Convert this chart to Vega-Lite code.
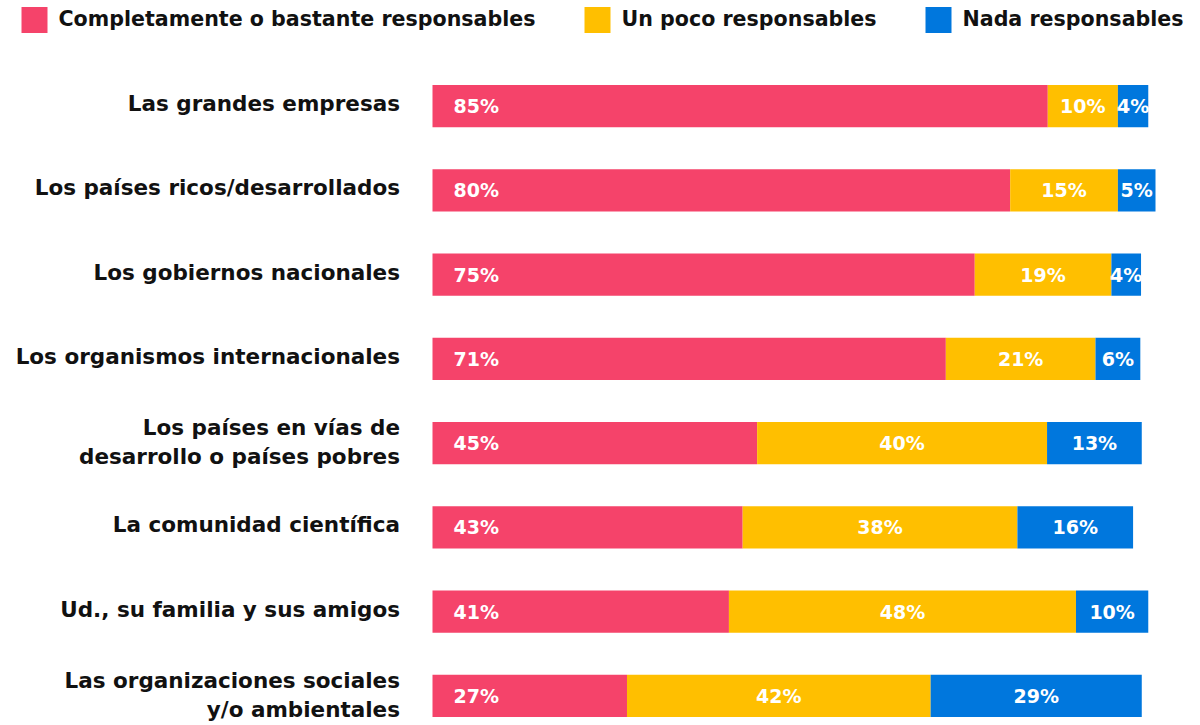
{
  "$schema": "https://vega.github.io/schema/vega-lite/v6.json",
  "width": 723,
  "height": 632,
  "autosize": {"type": "none"},
  "padding": {"left": 432.5, "top": 85, "right": 44.5, "bottom": 8},
  "config": {"view": {"stroke": null}, "font": "DejaVu Sans", "background": "white"},
  "data": {
    "values": [
      {"grupo": "Las grandes empresas", "respuesta": "Completamente o bastante responsables", "valor": 85.1},
      {"grupo": "Las grandes empresas", "respuesta": "Un poco responsables", "valor": 9.7},
      {"grupo": "Las grandes empresas", "respuesta": "Nada responsables", "valor": 4.2},
      {"grupo": "Los países ricos/desarrollados", "respuesta": "Completamente o bastante responsables", "valor": 79.9},
      {"grupo": "Los países ricos/desarrollados", "respuesta": "Un poco responsables", "valor": 14.9},
      {"grupo": "Los países ricos/desarrollados", "respuesta": "Nada responsables", "valor": 5.2},
      {"grupo": "Los gobiernos nacionales", "respuesta": "Completamente o bastante responsables", "valor": 75.0},
      {"grupo": "Los gobiernos nacionales", "respuesta": "Un poco responsables", "valor": 18.9},
      {"grupo": "Los gobiernos nacionales", "respuesta": "Nada responsables", "valor": 4.1},
      {"grupo": "Los organismos internacionales", "respuesta": "Completamente o bastante responsables", "valor": 71.0},
      {"grupo": "Los organismos internacionales", "respuesta": "Un poco responsables", "valor": 20.7},
      {"grupo": "Los organismos internacionales", "respuesta": "Nada responsables", "valor": 6.2},
      {"grupo": "Los países en vías de\ndesarrollo o países pobres", "respuesta": "Completamente o bastante responsables", "valor": 44.9},
      {"grupo": "Los países en vías de\ndesarrollo o países pobres", "respuesta": "Un poco responsables", "valor": 40.1},
      {"grupo": "Los países en vías de\ndesarrollo o países pobres", "respuesta": "Nada responsables", "valor": 13.1},
      {"grupo": "La comunidad científica", "respuesta": "Completamente o bastante responsables", "valor": 42.9},
      {"grupo": "La comunidad científica", "respuesta": "Un poco responsables", "valor": 38.0},
      {"grupo": "La comunidad científica", "respuesta": "Nada responsables", "valor": 16.0},
      {"grupo": "Ud., su familia y sus amigos", "respuesta": "Completamente o bastante responsables", "valor": 41.0},
      {"grupo": "Ud., su familia y sus amigos", "respuesta": "Un poco responsables", "valor": 48.0},
      {"grupo": "Ud., su familia y sus amigos", "respuesta": "Nada responsables", "valor": 10.0},
      {"grupo": "Las organizaciones sociales\ny/o ambientales", "respuesta": "Completamente o bastante responsables", "valor": 26.9},
      {"grupo": "Las organizaciones sociales\ny/o ambientales", "respuesta": "Un poco responsables", "valor": 42.0},
      {"grupo": "Las organizaciones sociales\ny/o ambientales", "respuesta": "Nada responsables", "valor": 29.2}
    ]
  },
  "transform": [
    {"calculate": "indexof(['Completamente o bastante responsables', 'Un poco responsables', 'Nada responsables'], datum.respuesta)", "as": "o"},
    {"calculate": "format(datum.valor, '.0f') + '%'", "as": "etiqueta"}
  ],
  "encoding": {
    "y": {
      "field": "grupo",
      "type": "nominal",
      "sort": null,
      "scale": {"paddingInner": 0.5, "paddingOuter": 0},
      "axis": {
        "title": null,
        "domain": false,
        "ticks": false,
        "labelPadding": 33,
        "labelFont": "DejaVu Sans",
        "labelFontSize": 21.5,
        "labelFontWeight": "bold",
        "labelColor": "#111111",
        "labelLimit": 500,
        "labelLineHeight": 29,
        "labelOffset": {"condition": {"test": "indexof(datum.label, '\\n') >= 0", "value": -14}, "value": -1},
        "labelExpr": "split(datum.label, '\\n')"
      }
    }
  },
  "layer": [
    {
      "mark": {"type": "bar"},
      "encoding": {
        "x": {"field": "valor", "type": "quantitative", "stack": "zero", "scale": {"domain": [0, 100], "nice": false}, "axis": null},
        "color": {
          "field": "respuesta",
          "type": "nominal",
          "scale": {
            "domain": ["Completamente o bastante responsables", "Un poco responsables", "Nada responsables"],
            "range": ["#F5436A", "#FFBF00", "#0077DD"]
          },
          "legend": {
            "title": null,
            "orient": "none",
            "legendX": -411,
            "legendY": -78,
            "direction": "horizontal",
            "symbolType": "square",
            "symbolSize": 676,
            "symbolStrokeWidth": 0,
            "labelFont": "DejaVu Sans",
            "labelFontSize": 20.6,
            "labelFontWeight": 600,
            "labelColor": "#111111",
            "labelOffset": 11,
            "columnPadding": 48,
            "labelLimit": 600
          }
        },
        "order": {"field": "o"}
      }
    },
    {
      "transform": [{"filter": "datum.o == 0"}],
      "mark": {"type": "text", "align": "left", "baseline": "middle", "dx": 21, "dy": 1, "color": "white", "fontWeight": "bold", "fontSize": 19, "font": "DejaVu Sans"},
      "encoding": {
        "x": {"datum": 0, "type": "quantitative"},
        "text": {"field": "etiqueta"}
      }
    },
    {
      "mark": {"type": "text", "align": "center", "baseline": "middle", "dy": 1, "color": "white", "fontWeight": "bold", "fontSize": 19, "font": "DejaVu Sans"},
      "encoding": {
        "x": {"field": "valor", "type": "quantitative", "stack": "zero", "bandPosition": 0.5},
        "detail": {"field": "respuesta"},
        "order": {"field": "o"},
        "text": {"condition": {"test": "datum.o == 0", "value": ""}, "field": "etiqueta"}
      }
    }
  ]
}
